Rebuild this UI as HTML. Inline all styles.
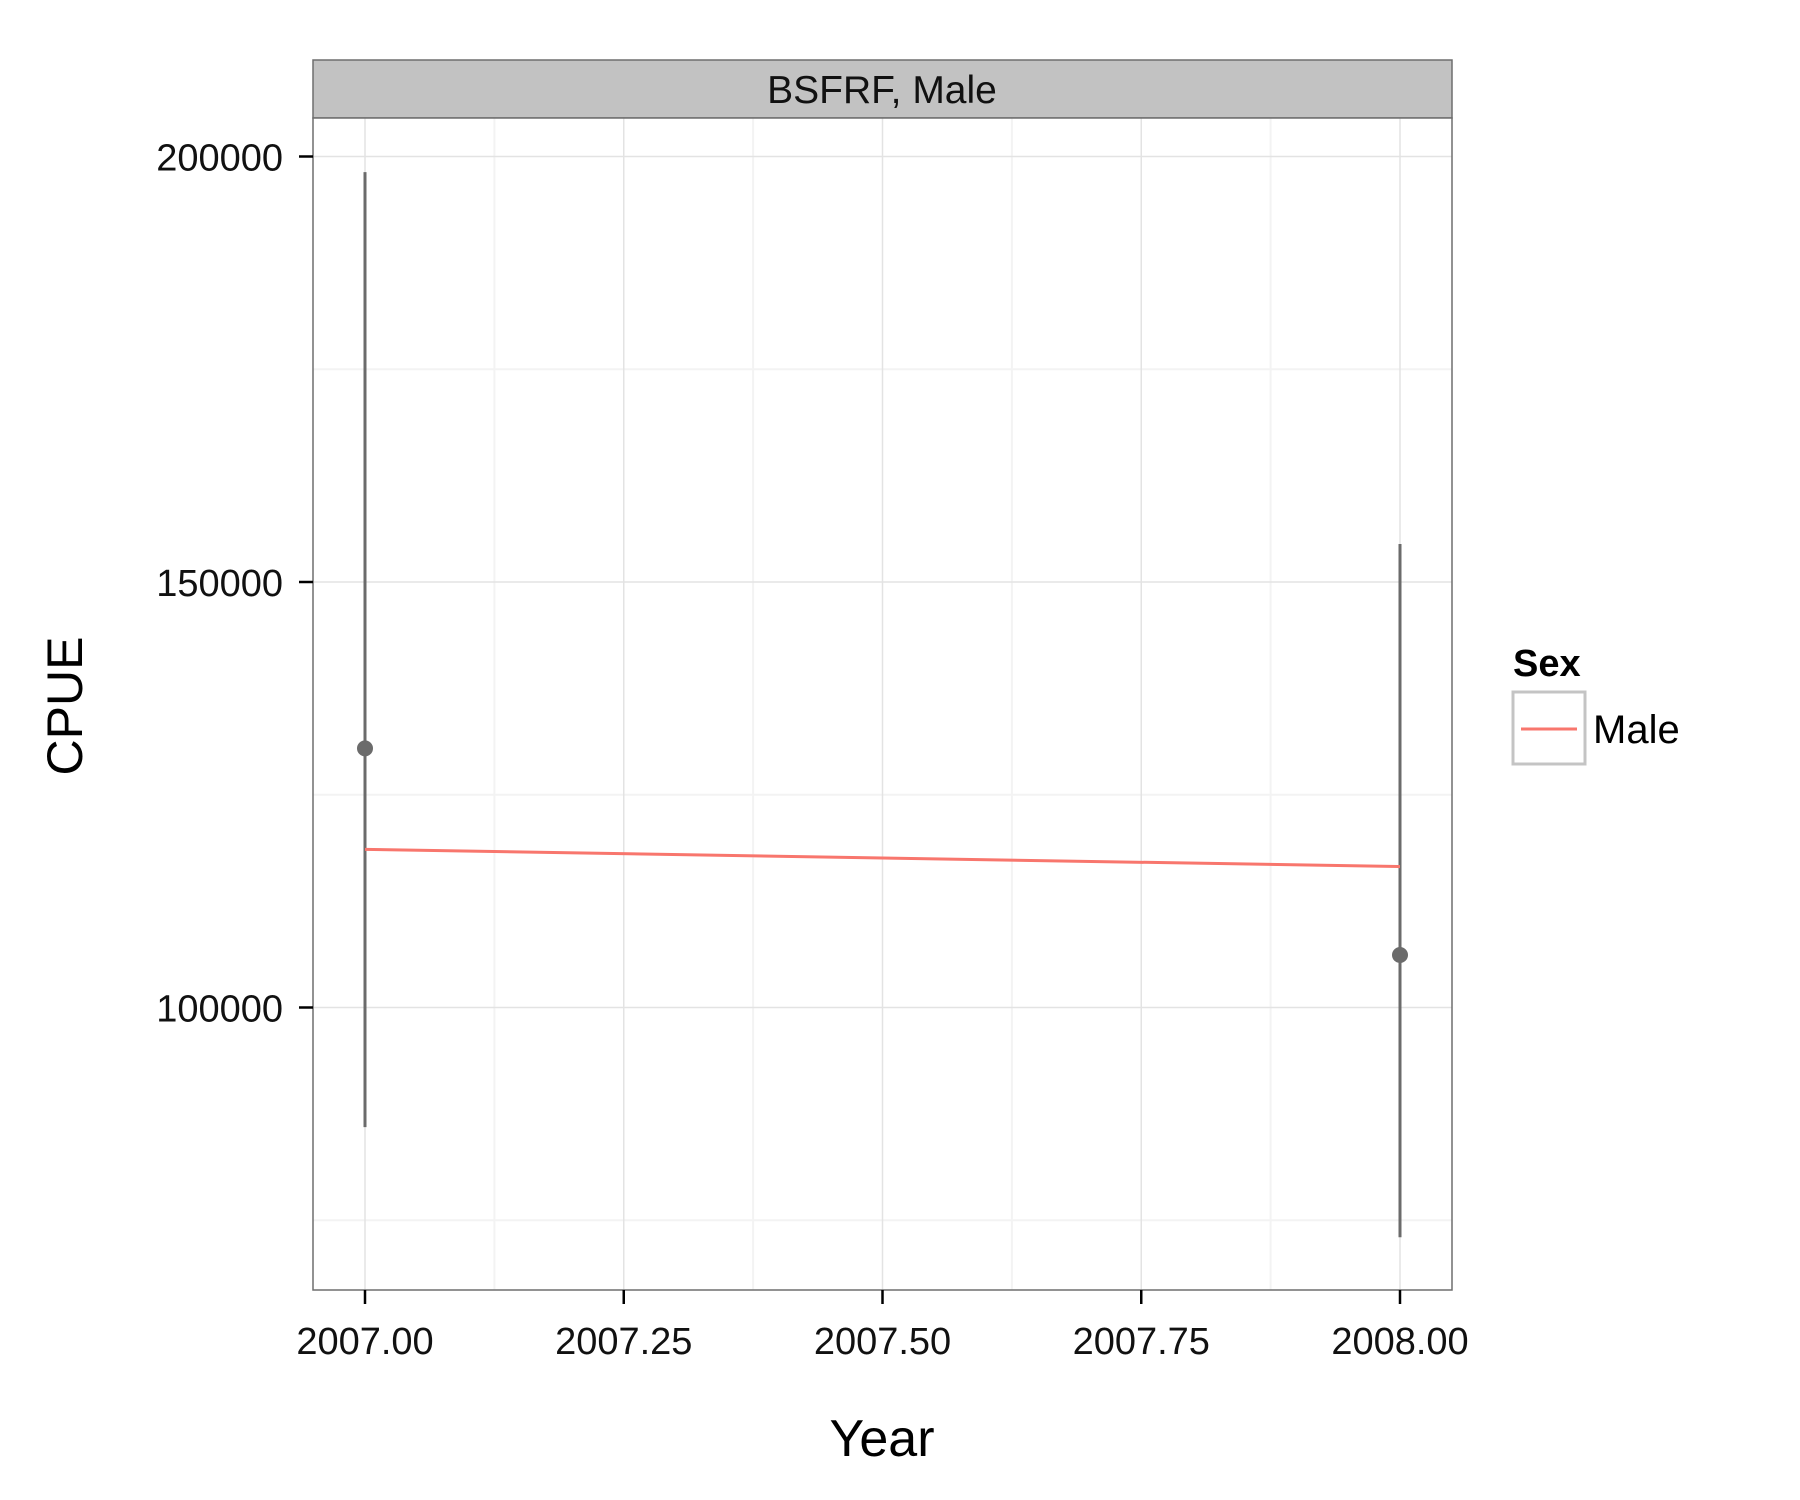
<!DOCTYPE html>
<html><head><meta charset="utf-8"><style>
body{margin:0;background:#fff;}
svg{display:block;font-family:"Liberation Sans",sans-serif;}
</style></head><body>
<svg id="chart" width="1800" height="1500" viewBox="0 0 1800 1500">
<rect x="0" y="0" width="1800" height="1500" fill="#fff"/>
<rect x="313" y="60" width="1139" height="58" fill="#c2c2c2" stroke="#6e6e6e" stroke-width="1.5"/>
<text x="882" y="103" font-size="39" text-anchor="middle" fill="#111">BSFRF, Male</text>
<g id="grid"></g>
<g id="marks"></g>
<rect x="313" y="118" width="1139" height="1172" fill="none" stroke="#6e6e6e" stroke-width="1.5"/>
<g id="axes"></g>
<text x="882" y="1456" font-size="52" text-anchor="middle" fill="#000">Year</text>
<text transform="translate(82,706) rotate(-90)" font-size="50" text-anchor="middle" fill="#000">CPUE</text>
<g>
<text x="1513" y="676" font-size="38" font-weight="bold" fill="#000">Sex</text>
<rect x="1513" y="692" width="72" height="72" fill="#fff" stroke="#c4c4c4" stroke-width="3"/>
<line x1="1521" y1="729" x2="1577" y2="729" stroke="#f8766d" stroke-width="3"/>
<text x="1593" y="743" font-size="40" fill="#000">Male</text>
</g>
</svg>
<script>
const years=[2007,2008];
const cpue=[130450,106170];
const lower=[85940,73000];
const upper=[198160,154470];
const trend=[118580,116560];
const xTicks=[2007,2007.25,2007.5,2007.75,2008];
const xTickLabels=["2007.00","2007.25","2007.50","2007.75","2008.00"];
const yTicks=[100000,150000,200000];
const yTickLabels=["100000","150000","200000"];
const yMinor=[75000,125000,175000];
const xMinor=[2007.125,2007.375,2007.625,2007.875];

const NS="http://www.w3.org/2000/svg";
const X=v=>365+(v-2007)*1035;
const Y=v=>582-(v-150000)/50000*425.5;
function mk(parent,tag,attrs){const e=document.createElementNS(NS,tag);for(const k in attrs)e.setAttribute(k,attrs[k]);document.getElementById(parent).appendChild(e);return e;}
const L=313,R=1452,T=118,B=1290;
mk('grid','rect',{x:L,y:T,width:R-L,height:B-T,fill:'#fff'});
yMinor.forEach(v=>{const e=mk('grid','line',{x1:L,x2:R,y1:Y(v),y2:Y(v),stroke:'#f3f3f3','stroke-width':2});

});
xMinor.forEach(v=>{const e=mk('grid','line',{x1:X(v),x2:X(v),y1:T,y2:B,stroke:'#f3f3f3','stroke-width':2});

});
yTicks.forEach((v,i)=>{const g=mk('grid','line',{x1:L,x2:R,y1:Y(v),y2:Y(v),stroke:'#e3e3e3','stroke-width':1.5});


const t=mk('axes','line',{x1:L-14,x2:L,y1:Y(v),y2:Y(v),stroke:'#000','stroke-width':2.5});


const l=mk('axes','text',{x:L-30,y:Y(v)+14,'font-size':38,'text-anchor':'end',fill:'#111'});l.textContent=yTickLabels[i];

});
xTicks.forEach((v,i)=>{const g=mk('grid','line',{x1:X(v),x2:X(v),y1:T,y2:B,stroke:'#e3e3e3','stroke-width':1.5});


const t=mk('axes','line',{x1:X(v),x2:X(v),y1:B,y2:B+14,stroke:'#000','stroke-width':2.5});


const l=mk('axes','text',{x:X(v),y:1354,'font-size':38,'text-anchor':'middle',fill:'#111'});l.textContent=xTickLabels[i];

});
years.forEach((yr,i)=>{
const eb=mk('marks','line',{x1:X(yr),x2:X(yr),y1:Y(upper[i]),y2:Y(lower[i]),stroke:'#6b6b6b','stroke-width':3});


const p=mk('marks','circle',{cx:X(yr),cy:Y(cpue[i]),r:8,fill:'#6b6b6b'});

});
const tl=mk('marks','line',{x1:X(years[0]),y1:Y(trend[0]),x2:X(years[1]),y2:Y(trend[1]),stroke:'#f8766d','stroke-width':3});


</script>
</body></html>
